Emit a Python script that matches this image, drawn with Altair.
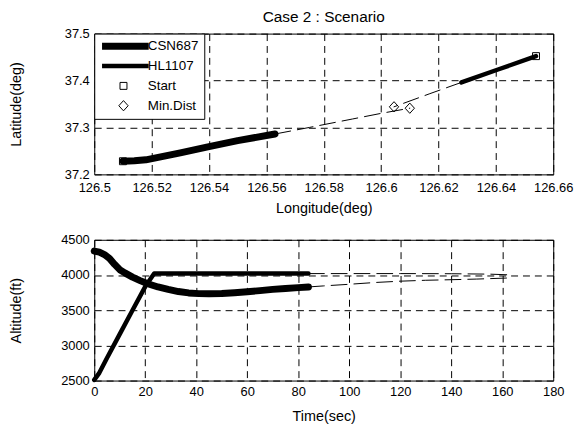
import altair as alt
import pandas as pd

FONT = "Liberation Sans"

# ---------------- top panel data (longitude / latitude) ----------------
series_names = ["CSN687", "HL1107", "Start", "Min.Dist"]

csn_lon = [126.510, 126.514, 126.518, 126.530, 126.540, 126.550, 126.563]
csn_lat = [37.228, 37.229, 37.231, 37.246, 37.259, 37.272, 37.286]
csn_pred_lon = [126.563, 126.575, 126.590, 126.600, 126.610]
csn_pred_lat = [37.286, 37.300, 37.318, 37.330, 37.341]

hl_lon = [126.654, 126.641, 126.628]
hl_lat = [37.452, 37.424, 37.396]
hl_pred_lon = [126.628, 126.617, 126.6045]
hl_pred_lat = [37.396, 37.372, 37.344]

start_lon = [126.510, 126.654]
start_lat = [37.228, 37.452]
mindist_lon = [126.6045, 126.610]
mindist_lat = [37.344, 37.341]

lon_ticks = [126.5, 126.52, 126.54, 126.56, 126.58, 126.6, 126.62, 126.64, 126.66]
lat_ticks = [37.2, 37.3, 37.4, 37.5]

# ---------------- bottom panel data (time / altitude) ----------------
t_csn = [0, 2, 4, 6, 8, 10, 12, 15, 18, 21, 25, 29, 33, 37, 41, 45, 50, 55, 60, 65, 70, 75, 80, 84]
alt_csn = [4340, 4325, 4290, 4235, 4150, 4075, 4030, 3970, 3920, 3875, 3830, 3795, 3765, 3745,
           3735, 3733, 3738, 3748, 3762, 3778, 3795, 3808, 3820, 3830]
t_csn_pred = [84, 90, 100, 110, 120, 130, 140, 150, 163]
alt_csn_pred = [3830, 3845, 3868, 3893, 3912, 3925, 3933, 3942, 3958]

t_hl = [0, 2, 5, 10, 15, 20, 23.5, 84]
alt_hl = [2510, 2610, 2820, 3160, 3500, 3835, 4020, 4020]
t_hl_pred = [84, 100, 120, 140, 155, 163]
alt_hl_pred = [4020, 4020, 4020, 4018, 4012, 4002]

time_ticks = [0, 20, 40, 60, 80, 100, 120, 140, 160, 180]
alt_ticks = [2500, 3000, 3500, 4000, 4500]

W, H = 463, 142

SYM = 1764
line_path = "M-1.03,0H1.21"
sq_path = "M-0.167,-0.167H0.167V0.167H-0.167Z"
dia_path = "M-0.224,0L0,-0.246L0.224,0L0,0.246Z"


def df_xy(xs, ys, xn, yn):
    return pd.DataFrame({xn: xs, yn: ys, "i": list(range(len(xs)))})


# ---------- top ----------
xenc_top = alt.X("lon:Q", scale=alt.Scale(domain=[126.5, 126.66], nice=False, zero=False),
                 axis=alt.Axis(values=lon_ticks, format="~g", title="Longitude(deg)",
                               labelPadding=7, titlePadding=7))
yenc_top = alt.Y("lat:Q", scale=alt.Scale(domain=[37.2, 37.5], nice=False, zero=False),
                 axis=alt.Axis(values=lat_ticks, format=".1f", title="Latitude(deg)",
                               titleX=-71, titleAngle=-90, titleBaseline="bottom"))


def top_line(xs, ys, sw, dash=None):
    kw = dict(color="black", strokeWidth=sw, strokeCap="round", strokeJoin="round")
    if dash:
        kw["strokeDash"] = dash
    return alt.Chart(df_xy(xs, ys, "lon", "lat")).mark_line(**kw).encode(
        x=xenc_top, y=yenc_top, order="i:Q")


legend = alt.Legend(title=None, orient="top-left", offset=0, padding=5,
                    strokeColor="black", fillColor="white", cornerRadius=0,
                    labelFont=FONT, labelFontSize=13.5, labelColor="black",
                    rowPadding=4, clipHeight=15.5, symbolSize=SYM,
                    symbolStrokeColor="black", symbolOffset=0, labelOffset=0)

pts = pd.DataFrame({
    "lon": start_lon + mindist_lon,
    "lat": start_lat + mindist_lat,
    "series": ["Start"] * len(start_lon) + ["Min.Dist"] * len(mindist_lon),
})
points = alt.Chart(pts).mark_point(filled=False, color="black", size=SYM, opacity=1).encode(
    x=xenc_top, y=yenc_top,
    shape=alt.Shape("series:N", scale=alt.Scale(domain=series_names,
                                                range=[line_path, line_path, sq_path, dia_path]),
                    legend=legend),
    strokeWidth=alt.StrokeWidth("series:N", scale=alt.Scale(type="ordinal", domain=series_names,
                                                            range=[7, 4.5, 1, 1]),
                                legend=legend),
)

top = alt.layer(
    top_line(csn_pred_lon, csn_pred_lat, 1, [16, 7]),
    top_line(hl_pred_lon, hl_pred_lat, 1, [16, 7]),
    top_line(csn_lon, csn_lat, 7),
    top_line(hl_lon, hl_lat, 4.5),
    points,
).properties(width=W, height=H,
             title=alt.TitleParams("Case 2 : Scenario", font=FONT, fontSize=15.5,
                                   fontWeight="normal", color="black", anchor="middle",
                                   offset=2))

# ---------- bottom ----------
xenc_bot = alt.X("t:Q", scale=alt.Scale(domain=[0, 180], nice=False),
                 axis=alt.Axis(values=time_ticks, format="d", title="Time(sec)",
                               labelPadding=5, titlePadding=11))
yenc_bot = alt.Y("a:Q", scale=alt.Scale(domain=[2500, 4500], nice=False, zero=False),
                 axis=alt.Axis(values=alt_ticks, format="d", title="Altitude(ft)",
                               titleX=-71, titleAngle=-90, titleBaseline="bottom"))


def bot_line(xs, ys, sw, dash=None):
    kw = dict(color="black", strokeWidth=sw, strokeCap="round", strokeJoin="round")
    if dash:
        kw["strokeDash"] = dash
    return alt.Chart(df_xy(xs, ys, "t", "a")).mark_line(**kw).encode(
        x=xenc_bot, y=yenc_bot, order="i:Q")


bottom = alt.layer(
    bot_line(t_csn_pred, alt_csn_pred, 1, [16, 7]),
    bot_line(t_hl_pred, alt_hl_pred, 1, [16, 7]),
    bot_line(t_csn, alt_csn, 7),
    bot_line(t_hl, alt_hl, 4.5),
).properties(width=W, height=H)

chart = alt.vconcat(top, bottom, spacing=18).properties(
    padding={"left": 0, "top": 0, "right": 5, "bottom": 0}
).configure_view(
    stroke="black", strokeWidth=1
).configure_axis(
    domain=False, ticks=False, grid=True, gridColor="black", gridDash=[7, 5],
    gridOpacity=1, gridWidth=1, labelFont=FONT, labelFontSize=13, labelColor="black",
    labelPadding=5, labelFlush=False, labelOverlap=False, titleFont=FONT,
    titleFontSize=14.5, titleFontWeight="normal", titleColor="black"
)

chart.save("out.html", embed_options={"renderer": "svg", "actions": False})
